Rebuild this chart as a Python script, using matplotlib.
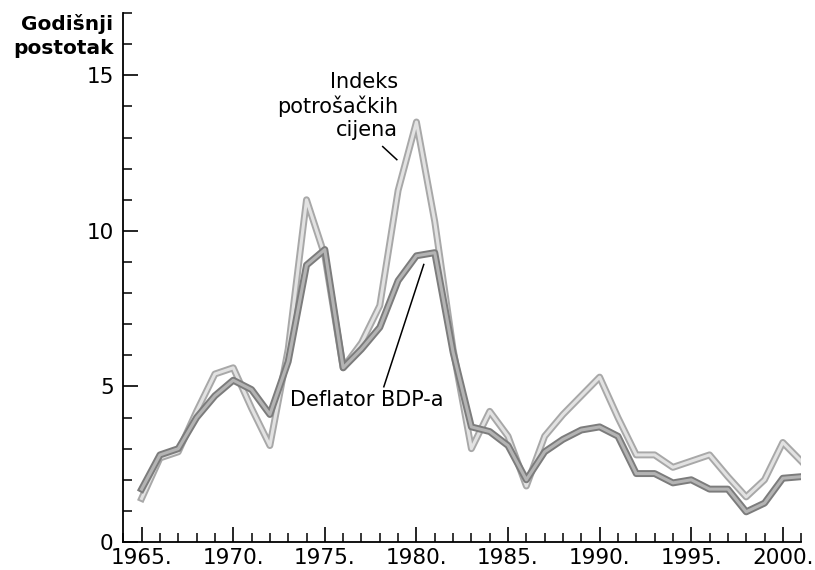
import numpy as np
import matplotlib.pyplot as plt
import matplotlib.patheffects as pe
from matplotlib.ticker import MultipleLocator

# ================ Podaci ================
godine = np.arange(1965, 2002)

cpi = [1.4, 2.7, 2.9, 4.2, 5.4, 5.6, 4.3, 3.1, 6.2, 11.0,
       9.2, 5.6, 6.4, 7.6, 11.3, 13.5, 10.3, 6.2, 3.0, 4.2,
       3.4, 1.8, 3.4, 4.1, 4.7, 5.3, 4.0, 2.8, 2.8, 2.4,
       2.6, 2.8, 2.1, 1.45, 2.0, 3.2, 2.6]

deflator = [1.7, 2.8, 3.0, 4.0, 4.7, 5.2, 4.9, 4.1, 5.8, 8.9,
            9.4, 5.6, 6.2, 6.9, 8.4, 9.2, 9.3, 6.1, 3.7, 3.55,
            3.1, 2.0, 2.9, 3.3, 3.6, 3.7, 3.4, 2.2, 2.2, 1.9,
            2.0, 1.7, 1.7, 0.97, 1.25, 2.05, 2.1]

x_oznake = [1965, 1970, 1975, 1980, 1985, 1990, 1995, 2000]
y_oznake = [0, 5, 10, 15]
# ========================================

fig = plt.figure(figsize=(8.15, 5.7), dpi=100)
ax = fig.add_axes([0.1513, 0.0491, 0.983 - 0.1513, 0.977 - 0.0491])

ax.plot(godine, cpi, color="#e2e2e2", lw=2.2,
        path_effects=[pe.Stroke(linewidth=5, foreground="#a8a8a8"), pe.Normal()])
ax.plot(godine, deflator, color="#b4b4b4", lw=2.2,
        path_effects=[pe.Stroke(linewidth=5, foreground="#7c7c7c"), pe.Normal()])

ax.set_xlim(1964, 2001)
ax.set_ylim(0, 17)

for s in ["top", "right"]:
    ax.spines[s].set_visible(False)
for s in ["left", "bottom"]:
    ax.spines[s].set_linewidth(1.3)

ax.set_xticks(x_oznake)
ax.set_xticklabels([str(g) + "." for g in x_oznake])
ax.xaxis.set_minor_locator(MultipleLocator(1))
ax.set_yticks(y_oznake)
ax.yaxis.set_minor_locator(MultipleLocator(1))

ax.tick_params(which="major", direction="in", length=11, width=1.2, labelsize=15.5)
ax.tick_params(which="minor", direction="in", length=6.5, width=1.1)
ax.tick_params(axis="x", pad=4)
ax.tick_params(axis="y", pad=7)

fig.text(0.139, 0.975, "Godišnji\npostotak", ha="right", va="top",
         fontsize=14.5, fontweight="bold", linespacing=1.3)

# oznake
ax.text(1979.0, 15.1, "Indeks\npotrošačkih\ncijena", ha="right", va="top",
        fontsize=15, linespacing=1.2)
ax.plot([1978.16, 1978.93], [12.71, 12.29], color="black", lw=1.1)

ax.text(1973.1, 4.57, "Deflator BDP-a", ha="left", va="center", fontsize=15)
ax.plot([1980.40, 1978.22], [8.92, 4.99], color="black", lw=1.1)

plt.savefig("out.png", dpi=100)
